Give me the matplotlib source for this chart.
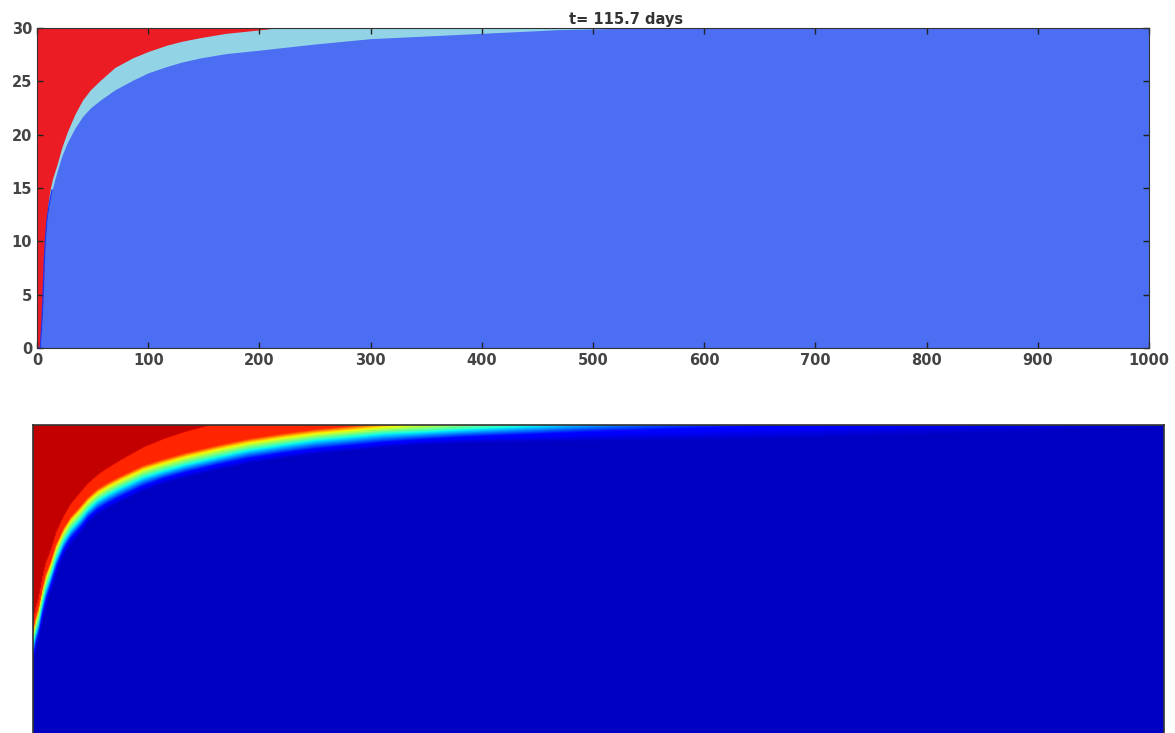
import numpy as np
import matplotlib.pyplot as plt

# ---- upper panel: front position at t = 115.7 days ----
# outer edge of the red (saturated) zone
x_outer = [0, 2.5, 3.5, 4.5, 5.4, 6.3, 7.2, 8.5, 10, 11.7, 14, 18, 22, 27, 34, 41, 48,
           57, 70, 86, 100, 117, 130, 147, 170, 198, 215]
y_outer = [0, 0, 1.5, 3, 4.5, 7, 9.8, 12, 13.6, 14.8, 15.9, 17.2, 18.7, 20.2, 21.9, 23.25, 24.2,
           25.1, 26.3, 27.2, 27.8, 28.4, 28.75, 29.1, 29.5, 29.8, 30]
# edge between the transition zone and the background
x_inner = [0, 3, 4.5, 5.5, 6.5, 7.5, 9, 11, 13.5, 16, 18, 22, 27, 34, 41, 48, 57, 70, 86,
           100, 117, 130, 147, 170, 198, 250, 300, 350, 400, 470, 540]
y_inner = [0, 0, 2.5, 5, 8, 10, 12, 13.5, 14.8, 15.8, 16.5, 17.9, 19.2, 20.6, 21.7, 22.5, 23.25, 24.2, 25.1,
           25.8, 26.4, 26.8, 27.2, 27.6, 27.9, 28.5, 29.0, 29.25, 29.5, 29.85, 30]

x_ticks = [0, 100, 200, 300, 400, 500, 600, 700, 800, 900, 1000]
y_ticks = [0, 5, 10, 15, 20, 25, 30]

# ---- lower panel: level curves of the smooth field, all on one x grid ----
lower_x = [0, 2, 4.4, 8, 11, 15, 20, 26.5, 33, 41.6, 48, 56.6, 66, 77, 87, 97, 115, 135,
           163, 190, 221, 250, 280, 309, 340, 380, 450, 520, 660, 850, 1000]
dk_y = [7.7, 8.7, 9.6, 11.5, 12.8, 14.2, 15.9, 17.7, 18.8, 19.8, 20.8, 21.6, 22.2, 22.8, 23.3, 23.8,
        24.5, 25.1, 25.8, 26.4, 26.9, 27.3, 27.6, 27.9, 28.15, 28.3, 28.45, 28.55, 28.7, 29.3, 29.8]
blue_y = [8.5, 9.5, 10.4, 12.3, 13.6, 14.9, 16.6, 18.3, 19.4, 20.4, 21.3, 22.1, 22.7, 23.3, 23.8, 24.3,
          25.0, 25.6, 26.3, 26.9, 27.4, 27.8, 28.1, 28.4, 28.65, 28.9, 29.2, 29.5, 30.0, 30.8, 31.5]
cyan_y = [9.5, 10.5, 11.4, 13.3, 14.6, 15.8, 17.5, 19.1, 20.2, 21.2, 22.05, 22.9, 23.5, 24.1, 24.6, 25.1,
          25.7, 26.3, 27.0, 27.65, 28.15, 28.6, 28.9, 29.2, 29.35, 29.6, 30.0, 30.5, 31.5, 33.0, 34.0]
yel_y = [10.5, 11.5, 12.4, 14.3, 15.6, 16.7, 18.4, 19.9, 21.0, 22.0, 22.8, 23.6, 24.2, 24.8, 25.3, 25.8,
         26.4, 27.0, 27.7, 28.3, 28.8, 29.2, 29.5, 29.8, 30.05, 30.3, 30.8, 31.3, 32.5, 34.0, 35.0]
red_y = [10.95, 11.95, 12.85, 14.75, 16.05, 17.15, 18.85, 20.35, 21.45, 22.45, 23.25, 24.05, 24.65, 25.25,
         25.75, 26.25, 26.85, 27.45, 28.15, 28.75, 29.25, 29.65, 29.95, 30.25, 30.5, 30.75, 31.25, 31.75,
         32.95, 34.45, 35.45]
dr_y = [11.8, 12.9, 13.8, 15.8, 17.1, 18.2, 19.9, 21.4, 22.6, 23.7, 24.5, 25.3, 26.0, 26.7, 27.3, 27.9,
        28.7, 29.4, 30.2, 30.9, 31.4, 31.8, 32.1, 32.4, 32.7, 33.0, 33.5, 34.0, 35.0, 36.5, 37.5]
# field value on each curve, bottom to top (last one just above the dark red edge)
level_vals = [0.06, 0.13, 0.37, 0.63, 0.87, 0.87, 0.94]

fig = plt.figure(figsize=(11.75, 7.33), dpi=100)

ax = fig.add_axes([37 / 1175, 1 - 348 / 733, 1112 / 1175, 320 / 733])
ax.set_facecolor('#4b6ef2')
ax.fill_between(x_inner, y_inner, 30, color='#92d4e6', lw=0)
ax.fill_between(x_outer, y_outer, 30, color='#ec1c24', lw=0)
ax.plot(x_inner[:9], y_inner[:9], color='#1f35f0', lw=1.0)
ax.set_xlim(0, 1000)
ax.set_ylim(0, 30)
ax.set_xticks(x_ticks)
ax.set_yticks(y_ticks)
ax.tick_params(direction='in', top=True, right=True, length=4, width=1,
               colors='#222222', labelsize=10.5, labelcolor='#444444')
for lab in ax.get_xticklabels() + ax.get_yticklabels():
    lab.set_fontweight('bold')
for s in ax.spines.values():
    s.set_color('#333333')
ax.set_title('t= 115.7 days', fontsize=10.5, fontweight='bold', color='#333333', x=0.53, pad=3)

# build the lower field column by column from the level curves
xs = np.linspace(0, 1000, 1001)
ys = np.linspace(0, 30, 400)
curves = [dk_y, blue_y, cyan_y, yel_y, red_y, dr_y]
field = np.zeros((len(ys), len(xs)))
for j, xv in enumerate(xs):
    levels = [np.interp(xv, lower_x, cy) for cy in curves]
    levels.append(levels[-1] + 0.05)
    field[:, j] = np.interp(ys, levels, level_vals)

ax2 = fig.add_axes([33 / 1175, 1 - 745 / 733, 1131 / 1175, 320 / 733])
ax2.imshow(field, extent=[0, 1000, 0, 30], origin='lower', aspect='auto',
           cmap='jet', vmin=0, vmax=1, interpolation='bilinear')
ax2.set_xticks([])
ax2.set_yticks([])
for s in ax2.spines.values():
    s.set_color('#333333')
    s.set_linewidth(1.2)

fig.savefig('out.png', dpi=100)
